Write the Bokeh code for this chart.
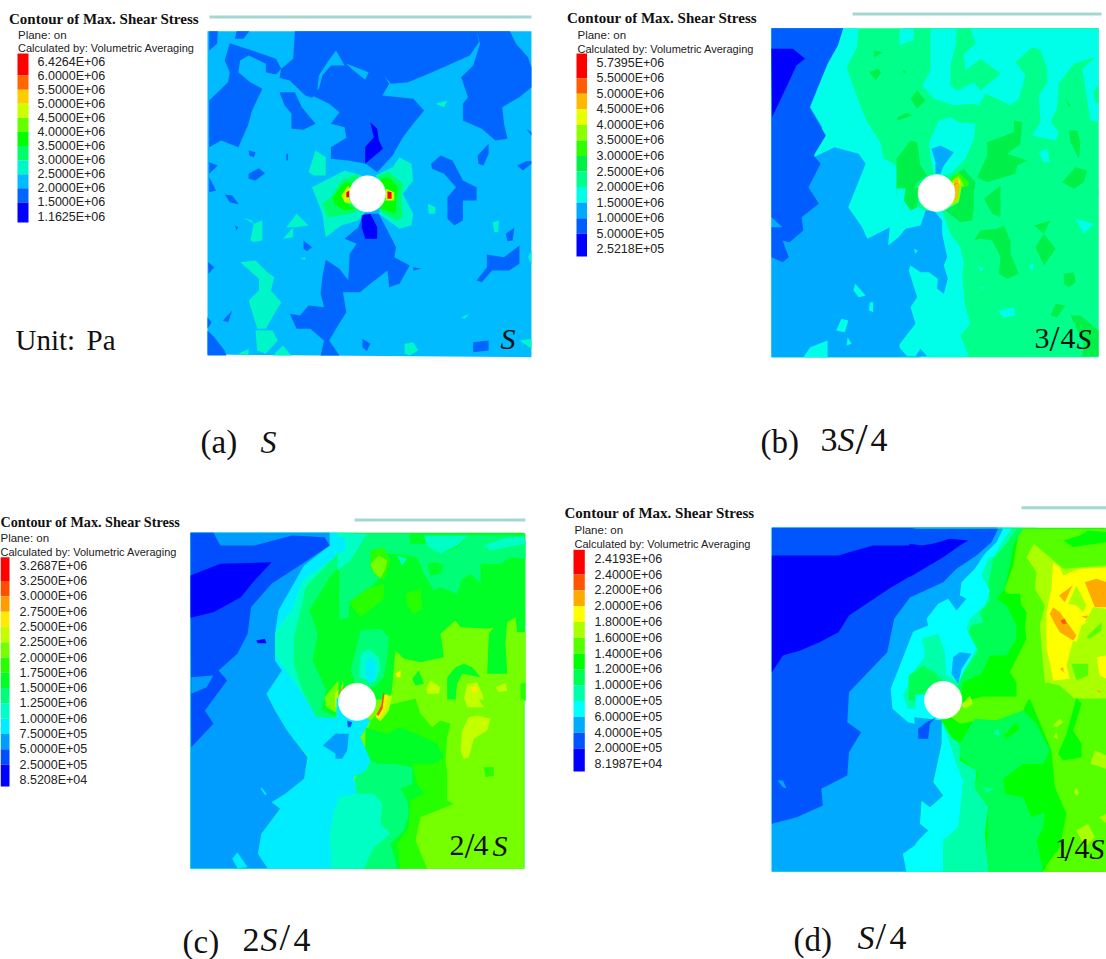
from bokeh.plotting import figure
from bokeh.models import Range1d
from bokeh.core.properties import value
from bokeh.embed import file_html
from bokeh.resources import INLINE

TITLE = "Contour of Max. Shear Stress"
PLANE = "Plane: on"
CALC = "Calculated by: Volumetric Averaging"

# legend values
labels_a = ["6.4264E+06","6.0000E+06","5.5000E+06","5.0000E+06","4.5000E+06","4.0000E+06","3.5000E+06","3.0000E+06","2.5000E+06","2.0000E+06","1.5000E+06","1.1625E+06"]
labels_b = ["5.7395E+06","5.5000E+06","5.0000E+06","4.5000E+06","4.0000E+06","3.5000E+06","3.0000E+06","2.5000E+06","2.0000E+06","1.5000E+06","1.0000E+06","5.0000E+05","2.5218E+05"]
labels_c = ["3.2687E+06","3.2500E+06","3.0000E+06","2.7500E+06","2.5000E+06","2.2500E+06","2.0000E+06","1.7500E+06","1.5000E+06","1.2500E+06","1.0000E+06","7.5000E+05","5.0000E+05","2.5000E+05","8.5208E+04"]
labels_d = ["2.4193E+06","2.4000E+06","2.2000E+06","2.0000E+06","1.8000E+06","1.6000E+06","1.4000E+06","1.2000E+06","1.0000E+06","8.0000E+05","6.0000E+05","4.0000E+05","2.0000E+05","8.1987E+04"]

# band colours, lowest stress first
colors_a = ["#0000ff","#0066ff","#00bbff","#00f5c8","#00ff66","#00ff00","#66ff00","#ccff00","#ffcc00","#ff6600","#ff0000"]
colors_b = ["#0000ff","#005dff","#00aaff","#00ffe8","#00ff8b","#00f04a","#8bff00","#e8ff00","#ffb900","#ff5d00","#ff0000","#2eff00"]
colors_c = ["#0000ff","#004eff","#009dff","#00ecff","#00ffc4","#00ff76","#00ff27","#27ff00","#76ff00","#c4ff00","#ffec00","#ff9d00","#ff4e00","#ff0000"]
colors_d = ["#0000ff","#0055ff","#00aaff","#00ffff","#00ffaa","#00ff55","#00ff00","#55ff00","#aaff00","#ffff00","#ffaa00","#ff5500","#ff0000"]
swatch_b = ["#ff0000","#ff5d00","#ffb900","#e8ff00","#8bff00","#2eff00","#00f04a","#00ff8b","#00ffe8","#00aaff","#005dff","#0000ff"]

# contour regions: (band, x, y, x, y, ...), painted in order
regions_a = [
 (2, 600,92, 1545,92, 1545,1070, 600,1062),
 (1, 605,92, 630,92, 628,130, 605,150),
 (1, 685,92, 722,92, 705,115, 680,115),
 (1, 855,92, 1385,92, 1392,125, 1365,165, 1300,195, 1240,222, 1185,245, 1135,250, 1115,225, 1130,250, 1110,285, 1200,295, 1232,330, 1200,370, 1170,410, 1140,465, 1095,515, 1062,490, 1010,480, 960,475, 960,440, 1005,412, 1000,380, 960,370, 985,335, 955,310, 905,285, 925,265, 935,225, 960,195, 1000,195, 975,150, 950,185, 925,225, 920,275, 905,292, 885,285, 840,240, 810,232, 815,205, 850,175),
 (1, 665,128, 745,155, 800,175, 815,205, 800,222, 770,215, 770,190, 720,165, 695,180, 690,215, 725,245, 760,265, 730,330, 718,375, 690,440, 640,420, 605,440, 605,300, 660,245, 665,215, 650,180),
 (1, 810,275, 855,275, 875,320, 915,370, 880,388, 845,385, 845,340, 825,315),
 (1, 1340,230, 1375,195, 1395,130, 1385,92, 1482,92, 1500,130, 1535,170, 1545,200, 1545,260, 1510,290, 1460,320, 1465,370, 1475,415, 1440,420, 1400,385, 1345,360, 1345,310, 1360,290),
 (2, 1005,190, 1070,215, 1060,238, 1020,205),
 (1, 1530,385, 1545,395, 1545,405),
 (1, 605,485, 630,495, 605,520),
 (1, 605,530, 625,570, 605,575),
 (1, 650,582, 672,585, 692,612, 665,605),
 (1, 720,520, 750,503, 768,518, 740,540, 720,535),
 (1, 720,450, 740,455, 735,470, 722,465),
 (1, 830,460, 835,460, 835,480, 830,480),
 (1, 680,675, 690,680, 685,690),
 (1, 880,720, 905,740, 890,752, 880,745),
 (1, 1252,490, 1280,465, 1315,480, 1345,540, 1385,560, 1385,600, 1345,600, 1345,660, 1320,675, 1300,655, 1300,590, 1325,560, 1290,520, 1255,505),
 (1, 1388,465, 1420,430, 1420,460, 1405,495, 1390,490),
 (1, 1503,495, 1530,482, 1545,482, 1545,490, 1520,510),
 (1, 1470,700, 1495,682, 1490,720, 1475,722),
 (1, 1385,840, 1415,800, 1415,762, 1465,770, 1510,735, 1510,790, 1480,810, 1430,810, 1400,845),
 (1, 1055,640, 1100,640, 1150,740, 1145,770, 1190,795, 1160,850, 1130,860, 1125,810, 1075,850, 1045,875, 1010,845, 1015,760, 1035,730, 1000,715, 1040,680),
 (1, 945,778, 985,805, 1015,845, 1045,875, 995,875, 1005,935, 975,985, 955,1020, 985,1065, 930,1065, 940,1020, 900,985, 860,985, 840,940, 870,945, 895,915, 940,920, 930,880, 935,830),
 (1, 1200,800, 1225,805, 1200,810),
 (1, 1052,1015, 1075,1030, 1065,1052, 1052,1040),
 (1, 1375,1025, 1420,1020, 1420,1050, 1375,1055),
 (1, 645,960, 672,930, 660,965),
 (1, 600,990, 620,1010, 650,1050, 655,1065, 600,1065),
 (1, 600,950, 612,965, 600,985),
 (1, 602,785, 620,800, 603,820),
 (3, 905,560, 1000,510, 1050,525, 1020,580, 1060,635, 1040,660, 990,675, 945,710, 935,640),
 (3, 1090,525, 1140,500, 1160,470, 1195,490, 1200,540, 1170,580, 1200,640, 1195,675, 1160,685, 1100,640, 1125,580),
 (3, 895,515, 915,450, 945,470, 945,525, 910,525),
 (3, 830,680, 860,640, 895,675, 860,680),
 (3, 820,715, 850,680, 850,710),
 (3, 725,720, 735,670, 760,660, 760,720, 735,725),
 (3, 705,652, 730,660, 735,670),
 (3, 1265,310, 1300,300, 1290,320),
 (3, 1243,610, 1265,620, 1265,640, 1245,640),
 (3, 1432,665, 1450,660, 1448,695, 1437,695),
 (3, 1535,770, 1545,750, 1545,790),
 (3, 695,785, 740,780, 775,815, 795,830, 785,870, 815,905, 770,985, 745,985, 720,900, 750,870, 750,835),
 (3, 740,990, 790,990, 805,1020, 770,1060, 745,1050),
 (3, 790,1065, 820,1035, 845,1065),
 (3, 690,1060, 720,1045, 720,1065),
 (3, 1175,1030, 1200,1025, 1215,1050, 1190,1065, 1175,1060),
 (3, 1510,1020, 1545,1015, 1545,1045),
 (3, 870,775, 885,770, 885,778),
 (3, 1340,950, 1365,940, 1350,955),
 (4, 960,590, 990,540, 1040,520, 1040,570, 1020,580, 1020,600, 1050,625, 1020,640, 950,650, 935,610),
 (4, 1095,525, 1130,515, 1170,550, 1165,600, 1170,650, 1150,660, 1100,630, 1125,575),
 (5, 965,590, 1000,545, 1030,550, 1005,580, 1005,610, 1030,625, 1000,630, 970,610),
 (5, 1105,535, 1130,530, 1155,560, 1150,600, 1150,640, 1105,625),
 (7, 990,585, 1010,555, 1020,570, 1010,585, 1020,610, 1000,605),
 (7, 1120,565, 1145,575, 1145,600, 1120,600),
 (10, 1005,575, 1015,570, 1015,590, 1005,590),
 (10, 1125,572, 1137,575, 1137,595, 1125,595),
 (0, 1050,645, 1075,640, 1095,680, 1095,715, 1060,715, 1050,680),
 (0, 1075,365, 1095,385, 1100,420, 1112,445, 1060,490, 1060,440, 1085,410),
]

regions_b = [
 (4, 608,83, 1553,83, 1553,1070, 608,1070),
 (3, 608,83, 860,83, 855,140, 825,200, 870,330, 885,365, 925,430, 930,470, 975,500, 985,560, 1030,600, 1060,625, 1080,640, 1095,680, 1115,780, 1140,830, 1150,900, 1160,980, 1165,1070, 608,1070),
 (2, 608,83, 815,83, 800,130, 770,190, 720,320, 755,380, 730,470, 790,440, 860,460, 880,490, 830,620, 870,680, 885,715, 950,680, 945,735, 1000,690, 1040,650, 1075,635, 1090,680, 1105,770, 1110,840, 1075,790, 1000,800, 1030,850, 1105,880, 1060,900, 1020,880, 1015,950, 1040,1070, 608,1070),
 (3, 850,850, 880,885, 860,890, 845,870),
 (3, 892,905, 902,905, 902,935, 890,930),
 (3, 810,955, 830,960, 820,995, 795,990),
 (3, 828,1010, 840,1030, 825,1035),
 (3, 700,1070, 720,1040, 770,1020, 770,1070),
 (1, 608,83, 815,83, 800,135, 770,190, 718,320, 765,405, 730,465, 750,490, 715,560, 745,610, 695,650, 700,690, 660,725, 640,720, 658,770, 640,785, 608,770, 608,680, 640,680, 608,650),
 (0, 608,145, 670,145, 705,175, 680,195, 660,240, 610,350),
 (5, 975,490, 1005,420, 1030,420, 1050,490, 1030,530, 1000,560, 1005,600, 1040,625, 985,620, 970,560),
 (5, 890,215, 915,205, 925,215, 910,240),
 (5, 975,350, 1000,335, 1005,345, 985,358),
 (5, 905,150, 930,155, 905,170),
]
# upper right part of panel b, finer reading
regions_b_upper = [
 (4, 8,8, 594,8, 594,510, 8,510),
 (3, 0,10, 40,10, 40,45, 0,60),
 (4, 0,60, 40,45, 90,10, 90,135, 65,180, 100,220, 215,235, 225,300, 85,350, 60,420, 30,345, 0,400),
 (3, 90,10, 594,10, 594,290, 570,285, 545,130, 585,95, 520,115, 475,175, 470,245, 450,290, 475,320, 465,345, 395,330, 420,290, 415,210, 440,170, 440,130, 420,75, 395,65, 345,110, 375,150, 355,220, 330,240, 290,220, 255,205, 235,240, 215,235, 160,240, 100,220, 65,180, 90,135),
 (4, 170,10, 210,10, 225,55, 190,85, 195,135, 240,100, 300,145, 240,195, 220,170, 170,195, 150,180, 150,120, 165,60),
 (4, 578,200, 594,180, 594,235, 585,230),
 (3, 85,350, 115,285, 150,275, 175,290, 225,295, 220,340, 195,400, 150,445, 130,450, 100,440, 90,400),
 (2, 93,370, 120,360, 160,380, 130,420, 120,445, 105,445, 105,410),
 (3, 415,380, 440,368, 448,410, 430,410),
 (5, 260,350, 340,320, 340,285, 365,290, 360,355, 320,385, 380,405, 350,420, 345,445, 260,470, 230,455, 260,390),
 (5, 30,220, 50,195, 75,225, 50,250),
 (5, 0,275, 20,262, 35,270, 0,285),
 (5, 505,315, 530,315, 540,350, 535,400, 510,350),
 (5, 485,470, 525,425, 560,435, 550,470, 520,490),
 (5, 0,400, 30,345, 50,350, 60,420, 80,450, 50,470, 30,510, 0,510),
 (5, 150,460, 190,430, 225,470, 220,510, 150,510),
 (5, 5,135, 15,135, 15,145),
 (5, 495,220, 510,240, 505,245),
 (5, 280,510, 295,495, 310,510),
 (11, 135,470, 175,440, 205,470, 200,510, 130,510),
 (6, 150,470, 175,450, 195,490, 185,510, 150,510),
 (7, 155,475, 175,460, 185,490, 175,510, 155,510),
 (8, 160,465, 172,460, 178,490, 165,500),
 (10, 162,475, 172,475, 172,490, 162,490),
 (6, 30,510, 45,485, 60,480, 55,510),
 (7, 38,510, 48,492, 55,490, 52,510),
]
# lower right part of panel b, finer reading
regions_b_lower = [
 (4, 8,0, 594,0, 594,497, 8,497),
 (3, 0,60, 125,60, 150,130, 180,170, 190,220, 185,260, 195,350, 210,400, 180,435, 205,497, 0,497),
 (2, 0,140, 15,115, 60,105, 75,60, 100,60, 125,90, 125,130, 140,200, 130,225, 142,265, 130,310, 110,295, 112,265, 85,245, 60,245, 30,225, 25,240, 50,320, 30,350, 45,400, 0,465),
 (2, 0,465, 20,497, 0,497),
 (2, 45,497, 60,475, 80,497),
 (3, 40,175, 52,180, 45,190),
 (3, 0,0, 15,0, 40,40, 70,60, 0,70),
 (5, 10,30, 15,0, 55,0, 50,50, 30,60),
 (5, 135,60, 170,40, 180,0, 220,0, 220,50, 215,90, 180,95),
 (5, 250,25, 300,0, 300,80, 275,70),
 (5, 220,150, 240,120, 290,115, 310,105, 330,150, 330,190, 355,250, 320,265, 295,250, 300,200, 275,150, 240,145),
 (5, 400,105, 450,90, 430,130, 465,175, 430,225, 405,170, 430,130),
 (5, 490,250, 520,245, 525,275, 505,290, 490,280),
 (5, 450,375, 465,340, 495,345, 470,380),
 (5, 510,375, 540,375, 594,420, 594,497, 545,497, 550,460),
 (3, 525,85, 580,100, 550,130),
 (3, 290,360, 340,350, 345,375, 310,382),
 (3, 230,225, 250,235, 240,242),
 (3, 385,225, 400,220, 395,245),
 (3, 240,290, 250,290, 245,298),
 (6, 160,0, 185,0, 175,35, 145,50),
 (8, 165,0, 178,0, 170,25, 155,35),
]

regions_c = [
 (6, 553,97, 1530,97, 1530,1105, 553,1105),
 (5, 553,97, 1045,97, 1020,160, 960,230, 900,330, 925,400, 910,480, 950,570, 935,630, 985,650, 1040,660, 1060,740, 1120,770, 1130,880, 1200,900, 1200,1000, 1210,1105, 553,1105),
 (4, 553,97, 1020,97, 990,150, 890,260, 870,350, 855,410, 855,490, 880,570, 920,650, 985,655, 1000,670, 1045,680, 1040,740, 1060,790, 1060,870, 1120,900, 1130,1000, 1140,1105, 553,1105),
 (3, 553,97, 985,97, 975,170, 880,240, 850,330, 800,395, 800,480, 820,510, 775,580, 800,630, 835,690, 900,770, 885,830, 830,880, 790,905, 815,930, 760,1000, 750,1060, 780,1105, 965,1105, 960,1000, 975,920, 1035,870, 1030,810, 1020,760, 1015,700, 1010,670, 985,655, 920,650, 900,610),
 (2, 553,97, 960,97, 960,135, 885,195, 860,240, 810,330, 800,400, 800,480, 820,510, 775,580, 800,630, 835,690, 895,770, 885,835, 830,880, 790,905, 815,925, 760,1000, 750,1060, 778,1103, 553,1103),
 (2, 940,735, 980,697, 1010,695, 1000,775),
 (3, 675,1075, 690,1055, 720,1100, 690,1103),
 (3, 760,860, 775,880, 772,885, 758,865),
 (1, 553,97, 620,97, 640,135, 740,135, 850,105, 945,110, 960,135, 880,190, 790,250, 730,320, 720,400, 690,460, 635,510, 660,540, 595,630, 620,670, 555,740),
 (2, 555,530, 620,525, 600,560, 555,580),
 (0, 745,420, 770,415, 775,428, 750,428),
 (0, 553,225, 640,190, 790,185, 740,240, 700,290, 620,335, 553,352),
 (8, 945,590, 985,540, 1040,545, 1000,600, 985,640, 950,620),
 (9, 975,580, 1000,550, 1020,550, 995,590, 990,625, 975,620),
 (11, 985,575, 1000,555, 1005,560, 990,600),
]
regions_c_upper = [
 (6, 8,10, 555,10, 555,510, 8,510),
 (5, 0,10, 205,10, 210,40, 260,40, 300,70, 350,50, 385,15, 520,15, 555,30, 555,85, 510,80, 480,100, 420,100, 420,160, 390,130, 365,145, 350,190, 300,170, 280,180, 250,130, 230,80, 170,70, 140,70, 130,130, 60,200, 25,225, 25,260, 0,270),
 (6, 0,270, 25,260, 40,300, 0,510),
 (5, 60,300, 120,295, 145,320, 140,380, 130,440, 100,470, 50,470, 30,420),
 (6, 260,100, 285,95, 310,105, 300,130, 270,135),
 (4, 0,10, 80,10, 30,90, 0,120),
 (4, 55,440, 60,370, 85,355, 115,380, 120,420, 100,455),
 (4, 430,45, 490,25, 550,15, 555,40, 500,50, 450,60),
 (4, 250,15, 385,15, 350,45, 300,70, 260,45),
 (4, 170,75, 200,85, 185,105),
 (3, 0,20, 15,20, 15,60, 0,70),
 (3, 75,445, 75,395, 90,380, 105,400, 105,440, 90,460),
 (7, 90,60, 130,50, 150,90, 130,150, 100,130, 90,110),
 (8, 90,100, 115,75, 140,90, 135,115, 120,145, 100,125),
 (7, 195,190, 240,175, 245,235, 220,250, 200,225),
 (7, 25,215, 80,175, 130,160, 130,205, 60,260),
 (8, 165,360, 190,385, 240,395, 310,380, 305,340, 300,310, 345,270, 360,290, 440,295, 460,290, 445,310, 440,430, 500,430, 495,340, 500,275, 525,260, 530,305, 555,305, 555,510, 150,510, 155,470, 160,410),
 (6, 215,445, 235,420, 250,460, 225,465),
 (6, 320,510, 320,440, 345,410, 370,400, 395,410, 420,440, 365,430, 350,460, 345,510),
 (9, 258,470, 270,450, 300,470, 295,490, 260,490),
 (9, 370,510, 380,460, 410,455, 425,490, 430,510),
 (9, 465,470, 495,458, 500,480, 475,485),
 (10, 165,430, 180,420, 180,440, 170,440),
 (10, 392,475, 405,465, 412,480, 400,490),
 (7, 540,460, 555,455, 555,510, 540,510),
]
regions_c_lower = [
 (8, 8,0, 550,0, 550,505, 8,505),
 (7, 90,60, 140,15, 225,0, 240,40, 275,80, 300,60, 330,70, 320,110, 315,180, 320,220, 320,300, 340,310, 290,330, 240,350, 225,420, 260,505, 0,505),
 (6, 75,80, 140,100, 180,80, 250,110, 290,130, 310,170, 280,190, 215,190, 230,250, 250,280, 210,300, 205,380, 170,430, 180,505, 70,505),
 (5, 70,170, 110,190, 160,190, 215,200, 215,250, 180,265, 200,300, 205,340, 190,390, 150,430, 170,505, 0,505, 0,290, 30,270),
 (4, 0,290, 30,280, 100,280, 125,310, 120,370, 150,400, 100,440, 70,505, 0,505),
 (3, 0,0, 90,60, 60,110, 90,180, 75,210, 40,230, 50,280, 0,290),
 (2, 0,100, 25,100, 20,150, 5,175, 0,175),
 (1, 20,60, 35,65, 30,80, 22,80),
 (9, 360,150, 365,90, 385,50, 410,45, 450,55, 440,90, 400,115, 385,170, 370,175),
 (10, 420,65, 435,65, 430,72),
 (9, 370,0, 410,0, 430,20, 380,20),
 (7, 430,200, 460,200, 460,225, 435,230),
 (9, 110,55, 125,15, 130,0, 155,0, 145,30, 120,62),
 (10, 105,50, 122,15, 130,0, 142,0, 132,28, 115,55),
 (12, 108,42, 122,15, 128,0, 132,0, 126,24, 114,46),
]

regions_d = [
 (6, 608,97, 1568,97, 1568,1128, 608,1128),
 (5, 608,97, 1370,97, 1325,170, 1310,300, 1300,420, 1300,500, 1280,570, 1200,580, 1150,570, 1100,680, 1170,740, 1260,800, 1240,880, 1270,1000, 1300,1128, 608,1128),
 (4, 608,97, 1330,97, 1295,160, 1285,290, 1260,400, 1240,480, 1150,560, 1110,670, 1160,760, 1200,850, 1190,950, 1210,1030, 1215,1128, 608,1128),
 (3, 608,97, 1300,97, 1260,170, 1215,290, 1175,340, 1170,430, 1215,470, 1150,570, 1110,665, 1095,700, 1115,770, 1145,840, 1150,920, 1150,1000, 1090,1040, 1100,1128, 608,1128),
 (2, 608,97, 1270,97, 1250,130, 1175,220, 1135,310, 1090,310, 1040,370, 1010,420, 980,500, 950,580, 955,640, 1000,680, 1040,690, 1090,690, 1090,770, 1075,860, 1040,940, 1040,990, 1060,1020, 985,1075, 995,1128, 608,1128),
 (1, 608,97, 1255,97, 1230,145, 1130,220, 1010,300, 960,370, 940,470, 830,590, 825,680, 865,710, 830,770, 825,840, 750,880, 755,930, 680,965, 608,985),
 (0, 608,180, 800,180, 830,170, 900,150, 1000,150, 1100,135, 1175,130, 1120,180, 1050,215, 945,280, 830,360, 800,410, 745,440, 690,465, 640,480, 608,530),
 (2, 625,855, 640,855, 650,878, 640,875),
 (3, 1030,380, 1110,305, 1175,340, 1170,430, 1130,500, 1110,570, 1045,560, 980,610, 960,630, 970,560, 1010,470),
 (4, 1040,430, 1075,410, 1100,480, 1095,550, 1060,580, 1045,600, 1040,640, 1000,640, 985,600, 1020,530, 1060,490),
 (5, 1000,610, 1040,530, 1090,520, 1075,560, 1050,590, 1045,620, 1020,620),
]
regions_d_upper = [
 (6, 8,9, 570,9, 570,525, 8,525),
 (7, 310,10, 570,10, 570,525, 300,525, 300,470, 280,440, 300,400, 330,340, 325,310, 330,260, 315,240, 310,205, 270,205, 265,190, 290,120, 300,60),
 (6, 440,45, 490,30, 515,15, 570,20, 570,50, 500,60, 470,65),
 (6, 250,480, 265,475, 265,490, 245,490),
 (8, 330,95, 352,55, 400,95, 440,130, 570,120, 570,525, 480,525, 430,480, 385,470, 375,360, 370,300, 385,240, 355,190, 360,140),
 (7, 465,415, 515,415, 515,450, 480,465),
 (7, 510,335, 555,290, 555,315, 520,340),
 (9, 390,260, 405,190, 410,110, 430,125, 440,150, 490,130, 570,125, 570,250, 530,245, 505,290, 520,285, 495,300, 480,350, 470,345, 460,380, 450,420, 460,460, 410,465, 400,410, 390,370),
 (8, 455,235, 480,180, 510,240, 500,260, 480,240),
 (9, 540,395, 570,390, 570,460, 550,450),
 (10, 400,265, 410,245, 430,260, 480,330, 470,345, 430,320, 415,295),
 (10, 428,210, 468,180, 445,230),
 (10, 505,170, 540,160, 570,170, 570,245, 535,245),
 (10, 495,272, 515,270, 510,280),
 (10, 430,430, 440,425, 442,440),
 (10, 540,495, 550,495, 553,503),
 (11, 432,285, 445,280, 450,295, 438,295),
 (5, 0,10, 320,10, 290,60, 280,120, 265,190, 240,220, 270,240, 300,300, 300,340, 270,390, 220,390, 195,445, 140,470, 130,525, 0,525),
 (4, 0,10, 300,10, 265,60, 230,100, 215,180, 220,225, 190,260, 200,290, 165,300, 155,320, 185,375, 140,440, 125,480, 0,525),
 (3, 0,10, 285,10, 255,50, 235,90, 215,100, 195,150, 220,195, 205,240, 160,280, 150,310, 180,370, 125,470, 105,455, 100,380, 70,320, 35,300, 0,320),
 (3, 0,320, 35,300, 70,320, 100,380, 105,455, 60,440, 20,400, 0,440),
 (2, 0,10, 260,10, 240,50, 205,85, 175,130, 135,170, 130,210, 150,220, 120,255, 95,220, 65,235, 30,280, 35,300, 0,320),
 (1, 0,10, 245,10, 225,50, 180,90, 120,130, 80,170, 0,215),
 (0, 0,55, 15,60, 50,55, 100,40, 155,45, 130,60, 80,95, 0,155),
 (4, 15,340, 65,325, 85,380, 90,460, 70,450, 20,410, 25,380),
 (5, 0,450, 20,420, 60,445, 80,465, 40,480, 20,525, 0,525),
 (2, 105,445, 110,395, 130,380, 165,385, 135,430, 125,475),
]
regions_d_lower = [
 (6, 8,0, 570,0, 570,514, 8,514),
 (7, 340,0, 570,0, 570,514, 380,514, 400,480, 430,440, 450,340, 415,260, 405,150),
 (6, 480,0, 495,10, 480,60, 470,90, 495,130, 495,170, 440,180, 425,160, 450,100),
 (7, 105,50, 135,5, 200,0, 340,0, 320,30, 240,60, 185,60, 130,70),
 (8, 522,190, 535,150, 570,165, 570,205),
 (8, 548,350, 570,340, 570,370),
 (8, 410,75, 430,55, 440,65, 420,80),
 (8, 472,275, 480,262, 488,278, 480,285),
 (8, 410,110, 420,95, 425,115),
 (8, 480,390, 515,370, 535,410, 505,440),
 (8, 135,15, 160,0, 170,10, 145,25),
 (5, 130,130, 175,55, 240,60, 320,30, 360,70, 400,150, 380,190, 320,190, 260,235, 265,280, 320,290, 345,350, 385,335, 380,380, 360,420, 380,514, 210,514, 215,320, 175,265, 185,215, 130,170),
 (4, 75,60, 105,110, 130,130, 130,180, 180,210, 175,265, 215,320, 205,400, 215,514, 80,514, 80,420, 125,380, 135,300, 140,240, 120,190, 95,110),
 (4, 200,260, 235,265, 210,275),
 (4, 230,100, 245,85, 250,105),
 (6, 262,105, 300,65, 310,85, 270,115),
 (3, 0,0, 40,0, 75,60, 95,110, 120,190, 140,240, 135,300, 125,380, 80,420, 80,514, 0,514, 0,430, 30,390, 10,370, 15,300, 40,320, 80,285, 50,245, 60,200, 75,130, 75,60, 0,50),
 (2, 0,50, 75,60, 75,130, 60,200, 50,245, 80,285, 40,320, 15,300, 10,370, 35,390, 0,430),
 (1, 5,85, 30,65, 60,50, 40,70, 35,115, 5,115),
]

# each panel: groups of regions with how the reading maps to the page (origin x, scale x, origin y, scale y)
panels = [
 dict(groups=[(regions_a, 1.3, 2.917, 0, 3)], colors=colors_a, swatch=list(reversed(colors_a)), labels=labels_a,
      hole=(367, 193.3), r=18,
      title_x=8.5, title_y=18.5, title_size=15, plane_x=17.5, plane_y=34, calc_y=47.5, sw=(17,28,53,222), lab_x=37, lab_y=(61,216),
      bar=(209,531,16.5)),
 dict(groups=[(regions_b, 560.6, 2.89, 0, 3), (regions_b_upper, 900, 3, 25, 3), (regions_b_lower, 900, 3, 190, 3)],
      colors=colors_b, swatch=swatch_b, labels=labels_b,
      hole=(936, 192.6), r=18.4,
      title_x=566.5, title_y=17.3, title_size=15, plane_x=577, plane_y=34, calc_y=48, sw=(576,586.5,53,256), lab_x=596, lab_y=(62.3,248.7),
      bar=(852,1101,13.5)),
 dict(groups=[(regions_c, 1, 2.925, 500, 3), (regions_c_upper, 340, 3, 530, 3), (regions_c_lower, 340, 3, 700, 3)],
      colors=colors_c, swatch=list(reversed(colors_c)), labels=labels_c,
      hole=(356.6, 701.4), r=18.6,
      title_x=0, title_y=521, title_size=14.2, plane_x=0, plane_y=537.7, calc_y=551.3, sw=(0,9,556.7,786), lab_x=19, lab_y=(565.3,779.3),
      bar=(354,525,519.5)),
 dict(groups=[(regions_d, 560, 2.877, 495, 3), (regions_d_upper, 916, 3, 525, 3), (regions_d_lower, 916, 3, 700, 3)],
      colors=colors_d, swatch=list(reversed(colors_d)), labels=labels_d,
      hole=(942.7, 699.6), r=18.7,
      title_x=564, title_y=512.7, title_size=15, plane_x=574, plane_y=529.3, calc_y=543.7, sw=(573,584.3,549.3,771), lab_x=594, lab_y=(558.3,763.7),
      bar=(1021,1106,507.3)),
]

p = figure(width=1106, height=959, x_range=Range1d(0, 1106), y_range=Range1d(959, 0),
           output_backend="svg", toolbar_location=None, min_border=0, margin=(0, 0, 0, 0))
p.axis.visible = False
p.grid.visible = False
p.outline_line_color = None
p.background_fill_color = "white"
p.border_fill_color = "white"

def txt(x, y, s, font, size, style="normal", color="#111111", align="left"):
    p.text([x], [y], text=[s], text_font=value(font), text_font_size=f"{size}px", text_font_style=style,
           text_color=color, text_baseline="middle", text_align=align)

SANS, SERIF = "Liberation Sans", "Liberation Serif"

for q in panels:
    xs, ys, cs = [], [], []
    for regs, ox, sx, oy, sy in q["groups"]:
        over_x = over_y = 0
        for reg in regs:
            band, pts = reg[0], reg[1:]
            px, py = list(pts[0::2]), list(pts[1::2])
            # a reading at a crop's own edge overlaps its neighbour, each later one a pixel more, so no seam shows
            if 0 in px:
                over_x += 3
            if 0 in py:
                over_y += 3
            xs.append([ox + (v if v else -over_x) / sx for v in px])
            ys.append([oy + (v if v else -over_y) / sy for v in py])
            cs.append(q["colors"][band])
    p.patches(xs, ys, fill_color=cs, line_color=None)
    hx, hy = q["hole"]
    p.ellipse([hx], [hy], width=2 * q["r"], height=2 * q["r"], fill_color="white", line_color="white", line_width=0.6)
    # legend
    labs = q["labels"]
    n = len(labs)
    y0, y1 = q["lab_y"]
    ly = [y0 + (y1 - y0) * i / (n - 1) for i in range(n)]
    l, r, t, b = q["sw"]
    edges = [t] + ly[1:-1] + [b]
    p.quad(left=l, right=r, top=edges[:-1], bottom=edges[1:], fill_color=q["swatch"][:n - 1], line_color=None)
    p.text([q["lab_x"]] * n, ly, text=labs, text_font=value(SANS), text_font_size="12.5px",
           text_color="#222222", text_baseline="middle")
    txt(q["title_x"], q["title_y"], TITLE, SERIF, q["title_size"], "bold")
    txt(q["plane_x"], q["plane_y"], PLANE, SANS, 11.5, color="#222222")
    txt(q["plane_x"], q["calc_y"], CALC, SANS, 11, color="#222222")
    bl, br, by = q["bar"]
    p.segment([bl], [by], [br], [by], line_color="#a3d8d2", line_width=3)

# annotations
txt(15, 339, "Unit:", SERIF, 29)
txt(86, 339, "Pa", SERIF, 29)
txt(500, 338, "S", SERIF, 30, "italic")
for x, y, s, st, sz in [
    (1034, 338, "3", "normal", 30), (1049, 338, "/", "normal", 36), (1060, 338, "4", "normal", 30), (1076, 338, "S", "italic", 30),
    (449, 845, "2", "normal", 30), (464, 845, "/", "normal", 36), (473, 845, "4", "normal", 30), (492, 845, "S", "italic", 30),
    (1054, 848, "1", "normal", 30), (1064, 848, "/", "normal", 36), (1074, 848, "4", "normal", 30), (1089, 848, "S", "italic", 30),
    (200, 441, "(a)", "normal", 33), (260, 441, "S", "italic", 32),
    (760, 441, "(b)", "normal", 33), (820, 439, "3", "normal", 34), (837, 439, "S", "italic", 34), (855, 439, "/", "normal", 44), (870, 439, "4", "normal", 34),
    (182, 941, "(c)", "normal", 33), (242, 939, "2", "normal", 34), (260, 939, "S", "italic", 34), (279, 936, "/", "normal", 38), (293, 939, "4", "normal", 34),
    (793, 939, "(d)", "normal", 33), (857, 937, "S", "italic", 34), (875, 935, "/", "normal", 38), (889, 937, "4", "normal", 34),
]:
    txt(x, y, s, SERIF, sz, st)

open("out.html", "w").write(file_html(p, INLINE))
